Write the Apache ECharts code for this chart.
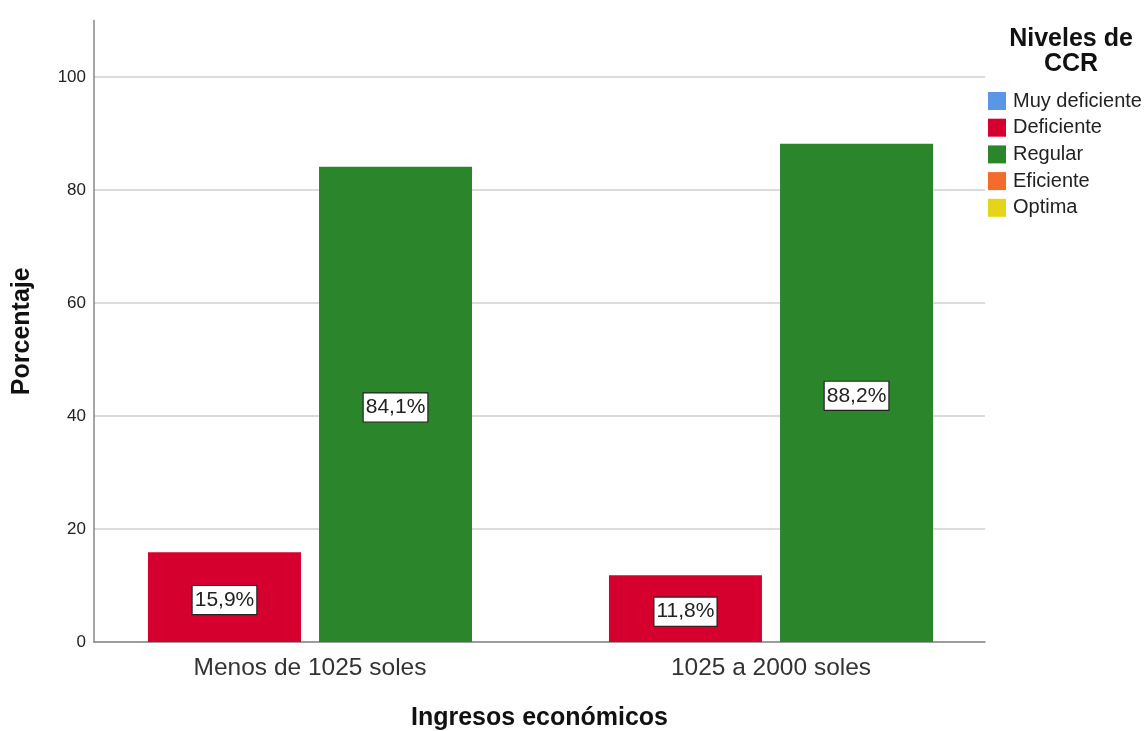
<!DOCTYPE html>
<html>
<head>
<meta charset="utf-8">
<script src="https://cdn.jsdelivr.net/npm/echarts@6/dist/echarts.min.js"></script>
<style>
  html, body { margin: 0; padding: 0; background: #fff; }
  #chart { width: 1148px; height: 731px; }
</style>
</head>
<body>
<div id="chart"></div>
<script>
// Income groups and CCR level percentages
const categories = ['Menos de 1025 soles', '1025 a 2000 soles'];
const levels = ['Muy deficiente', 'Deficiente', 'Regular', 'Eficiente', 'Optima'];
const levelColors = ['#5a96e6', '#d6002f', '#2b862b', '#f46b2b', '#e5d51a'];
const deficiente = [15.9, 11.8];
const regular = [84.1, 88.2];
const yTicks = [0, 20, 40, 60, 80, 100];

const FONT = 'Liberation Sans, Arial, sans-serif';
const fmt = v => v.toFixed(1).replace('.', ',') + '%';

const valueLabel = {
  show: true,
  position: 'inside',
  offset: [0, 3],
  formatter: p => fmt(p.value),
  color: '#222',
  fontFamily: FONT,
  fontSize: 21,
  backgroundColor: '#fff',
  borderColor: '#222',
  borderWidth: 1.2,
  padding: [4, 2, 3, 2]
};

const chart = echarts.init(document.getElementById('chart'));
chart.setOption({
  animation: false,
  title: {
    text: 'Niveles de\nCCR',
    left: 1066,
    top: 22,
    textAlign: 'center',
    textStyle: { fontFamily: FONT, fontSize: 25, fontWeight: 'bold', color: '#111', lineHeight: 25 }
  },
  legend: {
    data: levels,
    orient: 'vertical',
    left: 983,
    top: 86,
    icon: 'rect',
    itemWidth: 18,
    itemHeight: 18,
    itemGap: 6.7,
    textStyle: { fontFamily: FONT, fontSize: 20, color: '#222', padding: [0, 0, 0, 2] },
    selectedMode: false
  },
  grid: [
    { left: 94, right: 163, top: 20.5, bottom: 89, outerBoundsMode: 'none', containLabel: false },
    { left: 79.5, right: 146.5, top: 20.5, bottom: 89, outerBoundsMode: 'none', containLabel: false }
  ],
  xAxis: [
    {
      gridIndex: 0,
      type: 'value',
      min: 0, max: 1,
      axisLine: { show: true, lineStyle: { color: '#888', width: 1.5 } },
      axisTick: { show: false },
      axisLabel: { show: false },
      splitLine: { show: false },
      name: 'Ingresos económicos',
      nameLocation: 'middle',
      nameGap: 64,
      nameTextStyle: { fontFamily: FONT, fontSize: 25, fontWeight: 'bold', color: '#111' }
    },
    {
      gridIndex: 1,
      type: 'category',
      data: categories,
      axisLine: { show: false },
      axisTick: { show: false },
      axisLabel: { fontFamily: FONT, fontSize: 24.5, color: '#333', margin: 14 }
    }
  ],
  yAxis: [
    {
      gridIndex: 0,
      type: 'value',
      min: yTicks[0],
      max: 110,
      interval: yTicks[1] - yTicks[0],
      axisLine: { show: true, lineStyle: { color: '#888', width: 1.5 } },
      axisTick: { show: false },
      axisLabel: { fontFamily: FONT, fontSize: 17, color: '#222', margin: 8, showMaxLabel: false },
      splitLine: {
        show: true,
        lineStyle: { color: ['#cfcfcf', '#cfcfcf', '#cfcfcf', '#cfcfcf', '#cfcfcf', '#cfcfcf', 'rgba(0,0,0,0)'], width: 1.5 }
      },
      name: 'Porcentaje',
      nameLocation: 'middle',
      nameGap: 59,
      nameTextStyle: { fontFamily: FONT, fontSize: 25, fontWeight: 'bold', color: '#111' }
    },
    {
      gridIndex: 1,
      type: 'value',
      min: 0,
      max: 110,
      show: false,
      splitLine: { show: false }
    }
  ],
  series: [
    { name: levels[0], type: 'line', xAxisIndex: 1, yAxisIndex: 1, data: [], color: levelColors[0] },
    {
      name: levels[1], type: 'bar', xAxisIndex: 1, yAxisIndex: 1,
      data: deficiente, color: levelColors[1],
      barWidth: 153, barGap: '11.8%',
      label: valueLabel
    },
    {
      name: levels[2], type: 'bar', xAxisIndex: 1, yAxisIndex: 1,
      data: regular, color: levelColors[2],
      barWidth: 153, barGap: '11.8%',
      label: valueLabel
    },
    { name: levels[3], type: 'line', xAxisIndex: 1, yAxisIndex: 1, data: [], color: levelColors[3] },
    { name: levels[4], type: 'line', xAxisIndex: 1, yAxisIndex: 1, data: [], color: levelColors[4] }
  ]
});
</script>
</body>
</html>
